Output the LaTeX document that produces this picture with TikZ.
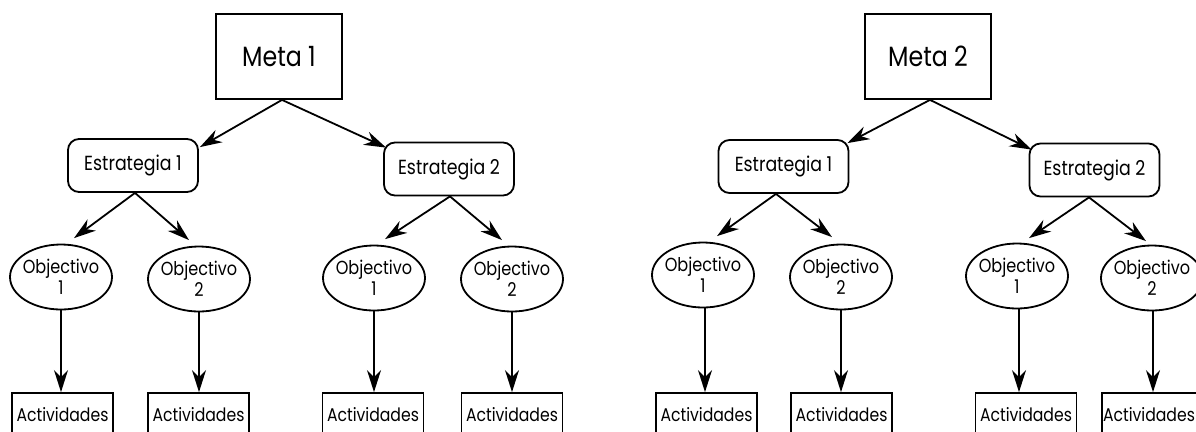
\documentclass[tikz,border=0pt]{standalone}
\usepackage{fontspec}
\setmainfont{Poppins}[FakeStretch=0.85]
\usetikzlibrary{arrows.meta,calc,shapes.geometric}
\newcommand\objlabel[1]{\makebox[60bp]{Objectivo}\\[1bp]\makebox[60bp]{#1}}
\begin{document}
\begin{tikzpicture}[x=1bp,y=-1bp,
  lw/.style={line width=1.8bp},
  metabox/.style={draw,lw,minimum width=126bp,minimum height=85bp,inner sep=0pt,font=\fontsize{28}{32}\selectfont},
  estbox/.style={draw,lw,rounded corners=11bp,minimum width=130bp,minimum height=53bp,inner sep=0pt,font=\fontsize{20.5}{24}\selectfont},
  objell/.style={draw,lw,ellipse,minimum width=102bp,minimum height=65bp,inner sep=0pt,align=center,font=\fontsize{19}{20}\selectfont},
  actbox/.style={draw,lw,minimum width=101bp,minimum height=44bp,inner sep=0pt,font=\fontsize{18.5}{22}\selectfont},
  arr/.style={lw,-{Stealth[length=22bp,width=14bp,inset=7bp]}}]
\useasboundingbox (0,0) rectangle (1196,431);
\fill[white] (0,0) rectangle (1196,431);
\clip (0,0) rectangle (1196,431);

% ---------- left tree ----------
\node[metabox] (M1) at (279,56.5) {Meta 1};
\node[estbox] (E11) at (133,165.5) {Estrategia 1};
\node[estbox] (E12) at (449,169) {Estrategia 2};
\node[objell] (O111) at (61,277) {\objlabel{1}};
\node[objell] (O112) at (199,279) {\objlabel{2}};
\node[objell] (O121) at (374,278) {\objlabel{1}};
\node[objell] (O122) at (512,279) {\objlabel{2}};
\node[actbox] (A111) at (62.5,415) {Actividades};
\node[actbox] (A112) at (198.5,415) {Actividades};
\node[actbox] (A121) at (373,415) {Actividades};
\node[actbox] (A122) at (512,415) {Actividades};

\draw[arr] ([xshift=3bp]M1.south) -- ($(E11.north east)+(1,9)$);
\draw[arr] ([xshift=3bp]M1.south) -- ($(E12.north west)+(3,6)$);
\draw[arr] ([xshift=2bp]E11.south) -- ($(O111.north)+(13,-5.5)$);
\draw[arr] ([xshift=2bp]E11.south) -- ($(O112.north)+(-10,-5.5)$);
\draw[arr] ([xshift=1bp]E12.south) -- ($(O121.north)+(11,-5.5)$);
\draw[arr] ([xshift=1bp]E12.south) -- ($(O122.north)+(-10,-5.5)$);
\draw[arr] (O111.south) -- (O111.south |- A111.north);
\draw[arr] (O112.south) -- (O112.south |- A112.north);
\draw[arr] (O121.south) -- (O121.south |- A121.north);
\draw[arr] (O122.south) -- (O122.south |- A122.north);

% ---------- right tree ----------
\node[metabox] (M2) at (928,56.5) {Meta 2};
\node[estbox] (E21) at (783.5,166.5) {Estrategia 1};
\node[estbox] (E22) at (1094.5,170) {Estrategia 2};
\node[objell] (O211) at (703,275) {\objlabel{1}};
\node[objell] (O212) at (841,277) {\objlabel{2}};
\node[objell] (O221) at (1017,276) {\objlabel{1}};
\node[objell] (O222) at (1152,278) {\objlabel{2}};
\node[actbox] (A211) at (706.5,415) {Actividades};
\node[actbox] (A212) at (841.5,415) {Actividades};
\node[actbox] (A221) at (1026,415) {Actividades};
\node[actbox] (A222) at (1152.5,415) {Actividades\hspace*{7bp}};

\draw[arr] ([xshift=2bp]M2.south) -- ($(E21.north east)+(-2,4)$);
\draw[arr] ([xshift=2bp]M2.south) -- ($(E22.north west)+(3,7)$);
\draw[arr] ([xshift=-7.5bp]E21.south) -- ($(O211.north)+(14,-5.5)$);
\draw[arr] ([xshift=-7.5bp]E21.south) -- ($(O212.north)+(-9,-6.5)$);
\draw[arr] ([xshift=-5.5bp]E22.south) -- ($(O221.north)+(12,-4.5)$);
\draw[arr] ([xshift=-5.5bp]E22.south) -- ($(O222.north)+(-6,-3.5)$);
\draw[arr] ([xshift=2bp]O211.south) -- ([xshift=2bp]O211.south |- A211.north);
\draw[arr] (O212.south) -- (O212.south |- A212.north);
\draw[arr] ([xshift=2bp]O221.south) -- ([xshift=2bp]O221.south |- A221.north);
\draw[arr] ([xshift=1bp]O222.south) -- ([xshift=1bp]O222.south |- A222.north);
\end{tikzpicture}
\end{document}
